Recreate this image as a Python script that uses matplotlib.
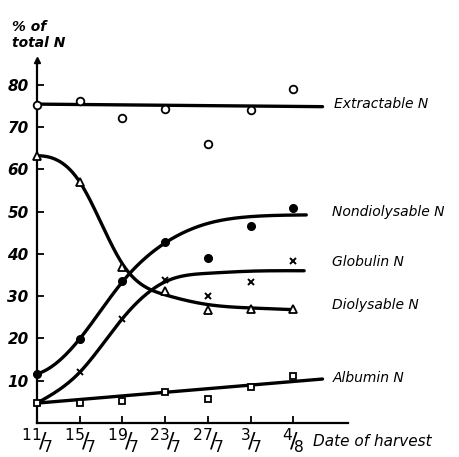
import numpy as np
import matplotlib
matplotlib.use("Agg")
import matplotlib.pyplot as plt

# ---------------- data ----------------
dates = ["11/7", "15/7", "19/7", "23/7", "27/7", "3/7", "4/8"]
date_num = ["11", "15", "19", "23", "27", "3", "4"]
date_den = ["7", "7", "7", "7", "7", "7", "8"]

extractable = [75.2, 76.2, 72.2, 74.2, 66.0, 74.0, 79.0]
nondiolysable = [11.7, 19.9, 33.6, 42.8, 39.0, 46.5, 50.8]
globulin = [4.8, 12.1, 24.7, 33.8, 30.0, 33.3, 38.3]
diolysable = [63.2, 57.0, 37.0, 31.3, 26.7, 27.0, 27.0]
albumin = [4.8, 4.7, 5.3, 7.4, 5.7, 8.6, 11.0]

# fitted (hand drawn) curves: knots
extr_fit_x = [0, 6.68]
extr_fit_y = [75.4, 74.8]
alb_fit_x = [0, 6.68]
alb_fit_y = [4.7, 10.4]
nond_fit_x = [0, 1, 2, 3, 4, 5, 6.3]
nond_fit_y = [11.6, 19.9, 33.4, 42.6, 47.2, 48.8, 49.2]
glob_fit_x = [0, 1, 2, 3, 4, 5, 6.25]
glob_fit_y = [4.7, 12.0, 24.7, 33.4, 35.4, 35.9, 36.0]
diol_fit_x = [0, 1, 2, 3, 4, 5, 6]
diol_fit_y = [63.2, 57.0, 37.6, 30.3, 28.0, 27.2, 26.8]

yticks = [10, 20, 30, 40, 50, 60, 70, 80]


def spline(xk, yk, n=300, d0=None):
    """Cubic spline through the knots (clamped start slope if given, natural end)."""
    xk = np.asarray(xk, float)
    yk = np.asarray(yk, float)
    N = len(xk)
    h = np.diff(xk)
    A = np.zeros((N, N))
    b = np.zeros(N)
    for i in range(1, N - 1):
        A[i, i - 1] = h[i - 1]
        A[i, i] = 2 * (h[i - 1] + h[i])
        A[i, i + 1] = h[i]
        b[i] = 3 * ((yk[i + 1] - yk[i]) / h[i] - (yk[i] - yk[i - 1]) / h[i - 1])
    if d0 is None:
        A[0, 0] = 1
    else:
        A[0, 0] = 2 * h[0]
        A[0, 1] = h[0]
        b[0] = 3 * ((yk[1] - yk[0]) / h[0] - d0)
    A[-1, -1] = 1
    c = np.linalg.solve(A, b)
    bb = (yk[1:] - yk[:-1]) / h - h * (2 * c[:-1] + c[1:]) / 3
    dd = (c[1:] - c[:-1]) / (3 * h)
    xs = np.linspace(xk[0], xk[-1], n)
    idx = np.clip(np.searchsorted(xk, xs) - 1, 0, N - 2)
    t = xs - xk[idx]
    ys = yk[idx] + bb[idx] * t + c[idx] * t**2 + dd[idx] * t**3
    return xs, ys


plt.rcParams["mathtext.fontset"] = "dejavusans"
plt.rcParams["mathtext.default"] = "it"
fig = plt.figure(figsize=(4.59, 4.57), dpi=100)
ax = fig.add_axes([0.0806, 0.0744, 0.677, 0.794])
ax.set_xlim(0, 7.27)
ax.set_ylim(0, 85.8)

for s in ["top", "right"]:
    ax.spines[s].set_visible(False)
for s in ["left", "bottom"]:
    ax.spines[s].set_linewidth(1.6)
ax.plot([0], [85.8], marker="^", color="black", markersize=4, clip_on=False)

x = np.arange(len(dates))
lw = 2.4

ax.plot(extr_fit_x, extr_fit_y, color="black", lw=lw, solid_capstyle="round")
ax.plot(alb_fit_x, alb_fit_y, color="black", lw=lw, solid_capstyle="round")
for fx, fy, d0 in [(nond_fit_x, nond_fit_y, 3.0), (glob_fit_x, glob_fit_y, None),
                   (diol_fit_x, diol_fit_y, 0.0)]:
    xs, ys = spline(fx, fy, d0=d0)
    ax.plot(xs, ys, color="black", lw=lw, solid_capstyle="round")

ms = 5.5
ax.plot(x, extractable, ls="none", marker="o", mfc="white", mec="black", mew=1.3, ms=ms, clip_on=False, zorder=5)
ax.plot(x, nondiolysable, ls="none", marker="o", mfc="black", mec="black", ms=ms, clip_on=False, zorder=5)
ax.plot(x, globulin, ls="none", marker="x", color="black", mew=1.4, ms=4.5, clip_on=False, zorder=5)
ax.plot(x, diolysable, ls="none", marker="^", mfc="white", mec="black", mew=1.3, ms=ms, clip_on=False, zorder=5)
ax.plot(x, albumin, ls="none", marker="s", mfc="white", mec="black", mew=1.3, ms=5, clip_on=False, zorder=5)

ax.set_yticks(yticks)
ax.set_yticklabels([str(v) for v in yticks], fontsize=11, fontstyle="italic", fontweight="bold")
ax.set_xticks(x)
ax.set_xticklabels([r"$^{%s}\!/\!_{%s}$" % (a, b) for a, b in zip(date_num, date_den)], fontsize=16)
ax.tick_params(direction="in", length=5, width=1.3, pad=2)
ax.tick_params(axis="y", pad=6)

tkw = dict(fontsize=10, fontstyle="italic", va="center", ha="left", transform=ax.transData, clip_on=False)
ax.text(6.95, 75.5, "Extractable N", **tkw)
ax.text(6.9, 50.0, "Nondiolysable N", **tkw)
ax.text(6.9, 38.0, "Globulin N", **tkw)
ax.text(6.9, 27.8, "Diolysable N", **tkw)
ax.text(6.92, 10.6, "Albumin N", **tkw)
fig.text(313 / 459, 1 - 442 / 457, "Date of harvest", fontsize=11, fontstyle="italic", va="center", ha="left")
fig.text(12 / 459, 1 - 35 / 457, "% of\ntotal N", fontsize=10, fontstyle="italic", fontweight="bold",
         va="center", ha="left", linespacing=1.2)

fig.savefig("out.png", dpi=100)
